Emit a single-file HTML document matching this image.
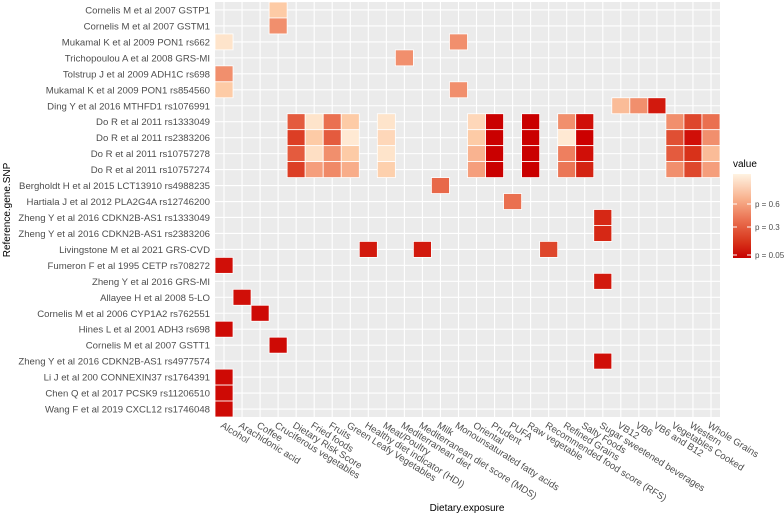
<!DOCTYPE html>
<html><head><meta charset="utf-8"><style>
body{margin:0;background:#fff;}
svg{display:block;font-family:"Liberation Sans",Arial,sans-serif;}
</style></head><body>
<svg id="chart" width="784" height="518" viewBox="0 0 784 518" xmlns="http://www.w3.org/2000/svg">
<defs>
<linearGradient id="lg" x1="0" y1="1" x2="0" y2="0">
<stop offset="0" stop-color="#c80000"/><stop offset="0.2" stop-color="#d8361c"/>
<stop offset="0.45" stop-color="#ea7050"/><stop offset="0.7" stop-color="#f8b08c"/>
<stop offset="1" stop-color="#fff3e2"/>
</linearGradient>
</defs>
<rect x="215" y="2" width="505" height="415" fill="#ebebeb"/>
<g id="grid"></g>
<g id="tiles"></g>
<g id="ylabels"></g>
<g id="xlabels"></g>
<text transform="translate(10,210) rotate(-90)" text-anchor="middle" font-size="10" fill="#000">Reference.gene.SNP</text>
<text x="467" y="511" text-anchor="middle" font-size="10" fill="#000">Dietary.exposure</text>
<g>
<text x="733" y="167" font-size="10" fill="#000">value</text>
<rect x="733" y="174" width="18" height="84" fill="url(#lg)"/>
<g id="legend-ticks"></g>
</g>
</svg>
<script>
const rows = ["Cornelis M et al 2007 GSTP1","Cornelis M et al 2007 GSTM1","Mukamal K et al 2009 PON1 rs662","Trichopoulou A et al 2008 GRS-MI","Tolstrup J et al 2009 ADH1C rs698","Mukamal K et al 2009 PON1 rs854560","Ding Y et al 2016 MTHFD1 rs1076991","Do R et al 2011 rs1333049","Do R et al 2011 rs2383206","Do R et al 2011 rs10757278","Do R et al 2011 rs10757274","Bergholdt H et al 2015 LCT13910 rs4988235","Hartiala J et al 2012 PLA2G4A rs12746200","Zheng Y et al 2016 CDKN2B-AS1 rs1333049","Zheng Y et al 2016 CDKN2B-AS1 rs2383206","Livingstone M et al 2021 GRS-CVD","Fumeron F et al 1995 CETP rs708272","Zheng Y et al 2016 GRS-MI","Allayee H et al 2008 5-LO","Cornelis M et al 2006 CYP1A2 rs762551","Hines L et al 2001 ADH3 rs698","Cornelis M et al 2007 GSTT1","Zheng Y et al 2016 CDKN2B-AS1 rs4977574","Li J et al 200 CONNEXIN37 rs1764391","Chen Q et al 2017 PCSK9 rs11206510","Wang F et al 2019 CXCL12 rs1746048"];
const cols = ["Alcohol","Arachidonic acid","Coffee","Cruciferous vegetables","Dietary Risk Score","Fried foods","Fruits","Green Leafy Vegetables","Healthy diet indicator (HDI)","Meat/Poultry","Mediterranean diet","Mediterranean diet score (MDS)","Milk","Monounsaturated fatty acids","Oriental","Prudent","PUFA","Raw vegetable","Recommended food score (RFS)","Refined Grains","Salty Foods","Sugar sweetened beverages","VB12","VB6","VB6 and B12","Vegetables Cooked","Western","Whole Grains"];
const legendTicks = [0.6, 0.3, 0.05];
const legendTickLabels = ["p = 0.6","p = 0.3","p = 0.05"];
// [rowIndex, colIndex, p-value]
const tiles = [
[0,3,0.6],[1,3,0.4],[2,0,0.7],[2,13,0.4],[3,10,0.4],[4,0,0.4],[5,0,0.6],[5,13,0.4],
[6,22,0.55],[6,23,0.4],[6,24,0.1],
[7,4,0.25],[7,5,0.7],[7,6,0.3],[7,7,0.6],[7,9,0.7],[7,14,0.65],[7,15,0.03],[7,17,0.03],[7,19,0.4],[7,20,0.08],[7,25,0.4],[7,26,0.2],[7,27,0.3],
[8,4,0.18],[8,5,0.6],[8,6,0.25],[8,7,0.72],[8,9,0.65],[8,14,0.6],[8,15,0.03],[8,17,0.03],[8,19,0.72],[8,20,0.05],[8,25,0.22],[8,26,0.08],[8,27,0.4],
[9,4,0.25],[9,5,0.68],[9,6,0.4],[9,7,0.6],[9,9,0.7],[9,14,0.52],[9,15,0.03],[9,17,0.03],[9,19,0.35],[9,20,0.08],[9,25,0.25],[9,26,0.15],[9,27,0.55],
[10,4,0.18],[10,5,0.45],[10,6,0.38],[10,7,0.5],[10,9,0.62],[10,14,0.45],[10,15,0.03],[10,17,0.03],[10,19,0.32],[10,20,0.12],[10,25,0.4],[10,26,0.2],[10,27,0.45],
[11,12,0.28],[12,16,0.3],[13,21,0.13],[14,21,0.13],[15,8,0.1],[15,11,0.1],[15,18,0.2],
[16,0,0.08],[17,21,0.1],[18,1,0.08],[19,2,0.07],[20,0,0.07],[21,3,0.07],[22,21,0.08],[23,0,0.07],[24,0,0.07],[25,0,0.07]
];
const NS="http://www.w3.org/2000/svg";
const X0=215, CW=505/28, Y0=2, RH=415/26;
const xPos=i=>X0+CW*i, yPos=i=>Y0+RH*i;
const stops=[[0,[200,0,0]],[0.05,[204,0,0]],[0.15,[216,50,26]],[0.3,[234,112,80]],[0.45,[245,158,124]],[0.6,[253,203,166]],[0.75,[255,240,222]]];
function color(p){
  if(p<=stops[0][0]) return `rgb(${stops[0][1]})`;
  for(let k=1;k<stops.length;k++){ if(p<=stops[k][0]){const a=stops[k-1],b=stops[k];const t=(p-a[0])/(b[0]-a[0]);
    return "rgb("+a[1].map((v,j)=>Math.round(v+(b[1][j]-v)*t)).join(",")+")";}}
  return `rgb(${stops[stops.length-1][1]})`;
}
function legendY(p){
  const ps=[0,0.05,0.3,0.6,0.75], ys=[258,255,227,204,174];
  for(let k=1;k<ps.length;k++) if(p<=ps[k]) return ys[k-1]+(ys[k]-ys[k-1])*(p-ps[k-1])/(ps[k]-ps[k-1]);
  return 174;
}
function mk(tag,attrs,parent){const e=document.createElementNS(NS,tag);for(const k in attrs)e.setAttribute(k,attrs[k]);parent.appendChild(e);return e;}
const grid=document.getElementById('grid');
cols.forEach((c,i)=>{
  const l=mk('line',{x1:xPos(i)+CW/2,x2:xPos(i)+CW/2,y1:Y0,y2:Y0+415,stroke:'#fff','stroke-width':1.1},grid);
  
  
});
rows.forEach((r,i)=>{
  const l=mk('line',{x1:X0,x2:X0+505,y1:yPos(i)+RH/2,y2:yPos(i)+RH/2,stroke:'#fff','stroke-width':1.1},grid);
  
  
});
const tg=document.getElementById('tiles');
tiles.forEach(t=>{
  const r=mk('rect',{x:xPos(t[1]),y:yPos(t[0]),width:CW,height:RH,fill:color(t[2]),stroke:'#fff','stroke-width':0.8},tg);
  
  
});
const yl=document.getElementById('ylabels');
rows.forEach((r,i)=>{
  const t=mk('text',{x:210,y:yPos(i)+RH/2+3.5,'text-anchor':'end','font-size':'9.6',fill:'#4d4d4d'},yl);
  t.textContent=r;
  
  
});
const xl=document.getElementById('xlabels');
cols.forEach((c,i)=>{
  const x=xPos(i)+CW/2-4, y=427;
  const t=mk('text',{x:x,y:y,transform:`rotate(32 ${x} ${y})`,'font-size':'9.6',fill:'#4d4d4d'},xl);
  t.textContent=c;
  
  
});
const lt=document.getElementById('legend-ticks');
legendTicks.forEach((p,i)=>{
  const y=legendY(p);
  const a=mk('line',{x1:733,x2:737,y1:y,y2:y,stroke:'#fff','stroke-width':1},lt);
  
  
  const b=mk('line',{x1:747,x2:751,y1:y,y2:y,stroke:'#fff','stroke-width':1},lt);
  
  
  const t=mk('text',{x:755,y:y+3,'font-size':'8',fill:'#4d4d4d'},lt);
  t.textContent=legendTickLabels[i];
  
  
});
</script>
</body></html>
